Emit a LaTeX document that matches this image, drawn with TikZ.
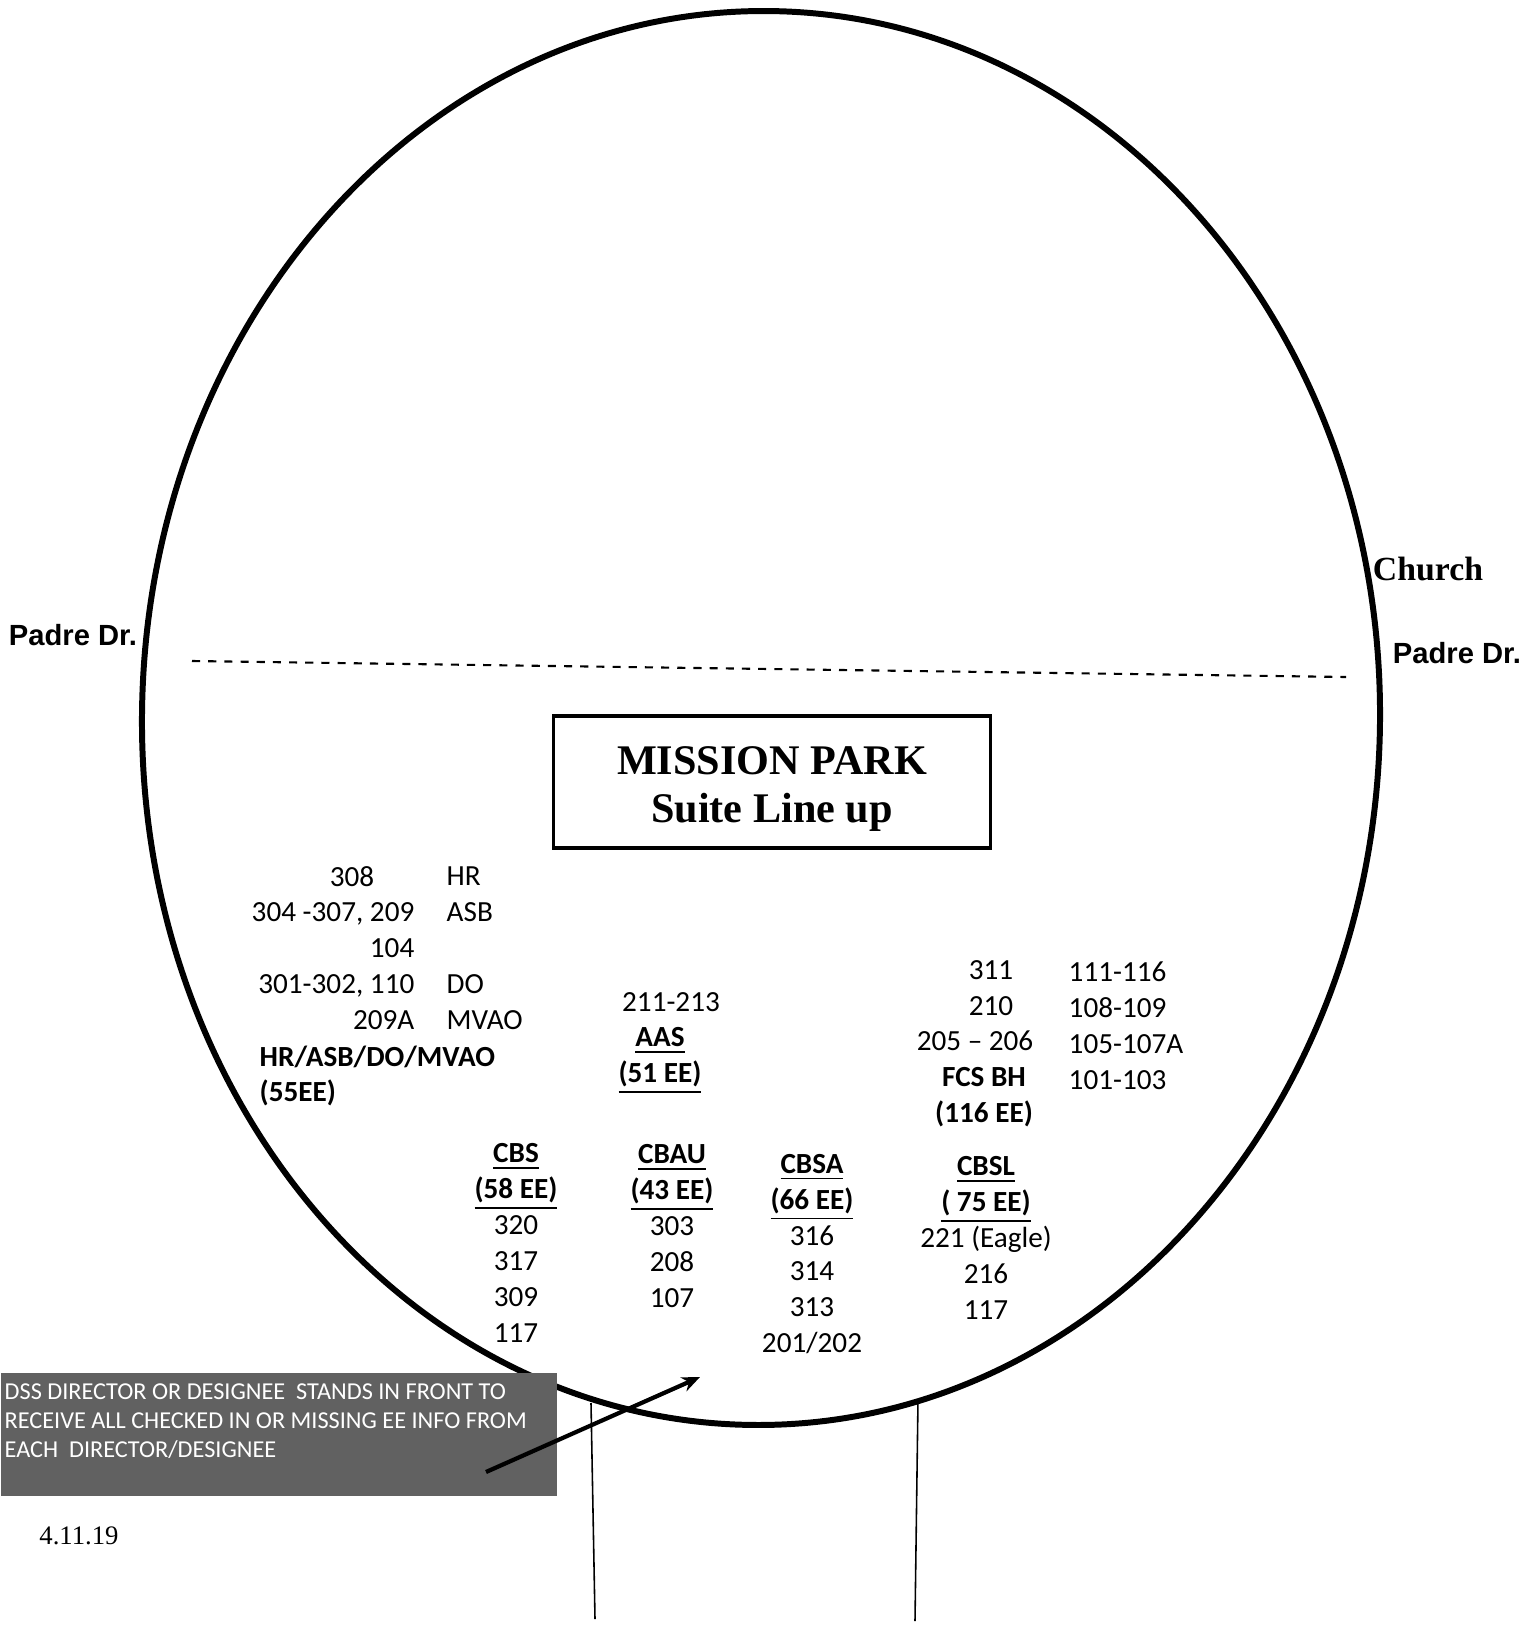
\documentclass[tikz,border=0pt]{standalone}
\usepackage{fontspec}
\setmainfont{Carlito}
\newfontfamily\timesfont{Liberation Serif}
\newfontfamily\arialfont{Liberation Sans}
\usepackage{tikz}
\usetikzlibrary{arrows.meta}

\tikzset{
  suite/.style = {font = \fontsize{8.3}{10.2}\selectfont, align = center, inner sep = 0pt},
  suitehead/.style = {suite, font = \bfseries\fontsize{8.3}{10.2}\selectfont},
  suiteleft/.style = {suite, align = left},
  suiteright/.style = {suite, align = right},
  street/.style = {font = \arialfont\bfseries\fontsize{8.3}{10}\selectfont, inner sep = 0pt}
}

\begin{document}
\begin{tikzpicture}[x = 0.01cm, y = -0.01cm]
\useasboundingbox (0, 0) rectangle (1535, 1627);
\draw [line width = 1.7pt, rotate around = {-1:(761, 718)}] (761, 718) ellipse [x radius = 619, y radius = 707];
\draw [line width = 0.6pt, dash pattern = on 2.3pt off 2.3pt] (192, 661) -- (1346, 677);
\node [street] (padrewest) at (73, 635) {Padre Dr.};
\node [street] (padreeast) at (1457, 653) {Padre Dr.};
\node [font = \timesfont\bfseries\fontsize{9.6}{11}\selectfont, inner sep = 0pt] (church) at (1428, 569) {Church};
\node [draw, line width = 0.9pt, minimum width = 4.37cm, minimum height = 1.32cm] (titlebox) at (772, 782) {};
\node [align = center, inner sep = 0pt, font = \timesfont\bfseries\fontsize{12}{13.7}\selectfont] (title) at (772, 789) {MISSION PARK\\Suite Line up};

\node [suite] (hrfirst) at (352, 877) {308};
\node [suiteright, anchor = east] (hrrooms) at (415, 966) {304 -307, 209\\104\\301-302, 110\\209A};
\node [suiteleft, anchor = west] (hrnames) at (446, 948) {HR\\ASB\\~\\DO\\MVAO};
\node [suitehead, align = left, anchor = west] (hrgroup) at (259, 1076) {HR/ASB/DO/MVAO\\(55EE)};

\node [suite] (aasrooms) at (671, 1002) {211-213};
\node [suitehead] (aas) at (660, 1061) {\underline{AAS}\\\underline{(51 EE)}};

\node [suite] (fcsthree) at (991, 970) {311};
\node [suite] (fcstwo) at (991, 1006) {210};
\node [suite] (fcspair) at (975, 1041) {205 -- 206};
\node [suitehead] (fcs) at (984, 1097) {FCS BH\\(116 EE)};
\node [suiteleft, anchor = west] (fcsrooms) at (1068, 1026) {111-116\\108-109\\105-107A\\101-103};

\node [suite] (cbs) at (516, 1243) {\textbf{\underline{CBS}}\\\textbf{\underline{(58 EE)}}\\320\\317\\309\\117};
\node [suite] (cbau) at (672, 1226) {\textbf{\underline{CBAU}}\\\textbf{\underline{(43 EE)}}\\303\\208\\107};
\node [suite] (cbsa) at (812, 1254) {\textbf{\underline{CBSA}}\\\textbf{\underline{(66 EE)}}\\316\\314\\313\\201/202};
\node [suite] (cbsl) at (986, 1238) {\textbf{\underline{CBSL}}\\\textbf{\underline{( 75 EE)}}\\221 (Eagle)\\216\\117};

\node [fill = black!62, minimum width = 5.56cm, minimum height = 1.23cm, anchor = north west, inner sep = 0pt] (dssbox) at (0, 1372) {};
\node [anchor = west, align = left, text = white, inner sep = 0pt, font = \fontsize{6.9}{8.25}\selectfont] (dssnote) at (4, 1421) {DSS DIRECTOR OR DESIGNEE\ \ STANDS IN FRONT TO\\RECEIVE ALL CHECKED IN OR MISSING EE INFO FROM\\EACH\ \ DIRECTOR/DESIGNEE};
\coordinate (dsstail) at (486, 1472);
\coordinate (front) at (700, 1377);
\draw [line width = 1.2pt, -{Stealth[length = 0.18cm, width = 0.15cm]}] (dsstail) -- (front);

\draw [line width = 0.45pt] (591, 1403) -- (595, 1619);
\draw [line width = 0.45pt] (918, 1400) -- (915, 1621);
\node [font = \timesfont\fontsize{7.6}{9}\selectfont, inner sep = 0pt] (date) at (79, 1536) {4.11.19};
\end{tikzpicture}
\end{document}
